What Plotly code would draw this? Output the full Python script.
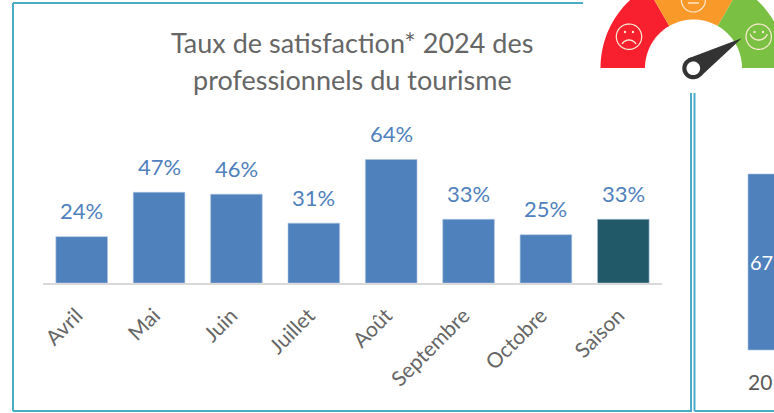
import numpy as np
import plotly.graph_objects as go

mois = ["Avril", "Mai", "Juin", "Juillet", "Août", "Septembre", "Octobre", "Saison"]
taux = [24, 47, 46, 31, 64, 33, 25, 33]
couleurs = ["#4F81BD"] * 7 + ["#215968"]
titre = ["Taux de satisfaction* 2024 des", "professionnels du tourisme"]

W, H = 774, 413
FONT = "Lato"
BLEU = "#4BACC6"
fig = go.Figure()
fig.add_trace(go.Bar(
    x=mois, y=taux, marker=dict(color=couleurs, line=dict(color="#A9C2E0", width=0.6)),
    width=0.667, showlegend=False, hoverinfo="skip"))
fig.add_trace(go.Scatter(x=[0], y=[0], xaxis="x2", yaxis="y2", mode="markers",
                         marker=dict(opacity=0), showlegend=False, hoverinfo="skip"))

shapes = []
def S(path=None, fill=None, line=None, lw=0):
    shapes.append(dict(type="path", path=path, xref="x2", yref="y2", layer="above",
                       fillcolor=fill or "rgba(0,0,0,0)",
                       line=dict(color=line or "rgba(0,0,0,0)", width=lw)))
def L(x0, y0, x1, y1, c=BLEU, w=2):
    shapes.append(dict(type="line", x0=x0, y0=y0, x1=x1, y1=y1, xref="x2", yref="y2",
                       layer="above", line=dict(color=c, width=w)))
def poly(pts, close=True):
    return "M " + " L ".join(f"{a:.2f},{b:.2f}" for a, b in pts) + (" Z" if close else "")
def arc(cx, cy, r, a0, a1, n=40):
    t = np.radians(np.linspace(a0, a1, n))
    return list(zip(cx + r * np.cos(t), cy - r * np.sin(t)))

# cadres
L(13, 3, 583, 3); L(13, 3, 13, 411); L(13, 411, 692, 411)
L(691, 93, 691, 411); L(694.5, 93, 694.5, 411); L(694.5, 411, 774, 411)

# jauge
cx, cy, R, r = 693.5, 68, 93, 48.5
for a0, a1, c in [(180, 120, "#F8202E"), (120, 60, "#F9992A"), (60, 0, "#7AC143")]:
    S(poly(arc(cx, cy, R, a0, a1) + arc(cx, cy, r, a1, a0)), fill=c)
ink = "#FCEBD5"
for fx, fy, fr in [(629, 36.7, 12.7), (693.4, 0, 12), (758.7, 36.7, 12.7)]:
    S(poly(arc(fx, fy, fr, 0, 360, 60)), line=ink, lw=1.2)
S(poly(arc(629, 48, 8, 30, 150), False), line=ink, lw=1.4)
S(poly(arc(758.7, 31, 9, 200, 340), False), line=ink, lw=1.4)
L(688, 3, 699, 3, ink, 1.4)
for fx, fy in [(625, 32), (633, 32), (754.5, 32), (763, 32)]:
    S(poly(arc(fx, fy, 1.2, 0, 360, 12)), fill=ink)
S(poly([(741.7, 38.3), (688, 58.5), (700.5, 76.5)]), fill="#333333")
S(poly(arc(693.3, 68.3, 11, 0, 360, 60)), fill="#333333")
S(poly(arc(693.3, 68.3, 6.8, 0, 360, 60)), fill="#FFFFFF")

# graphique voisin, coupé par le bord
shapes.append(dict(type="rect", x0=748, x1=776, y0=174, y1=350, xref="x2", yref="y2",
                   layer="above", fillcolor="#4F81BD", line=dict(color="#A9C2E0", width=0.6)))

ann = [dict(text=titre[0], x=352, y=42.5), dict(text=titre[1], x=352, y=79.5)]
annotations = [dict(a, xref="x2", yref="y2", showarrow=False, xanchor="center", yanchor="middle",
                    font=dict(family=FONT, size=27, color="#666666")) for a in ann]
annotations += [
    dict(text="67", x=748, y=262, xref="x2", yref="y2", showarrow=False, xanchor="left",
         yanchor="middle", font=dict(family=FONT, size=20, color="#FFFFFF")),
    dict(text="20", x=746, y=381, xref="x2", yref="y2", showarrow=False, xanchor="left",
         yanchor="middle", font=dict(family=FONT, size=21, color="#595959")),
]
annotations += [dict(text=f"{v}%", x=m, y=v, xref="x", yref="y", showarrow=False, yshift=26,
                     xanchor="center", yanchor="middle",
                     font=dict(family=FONT, size=22, color="#4F81BD"))
                for m, v in zip(mois, taux)]

fig.update_layout(
    width=W, height=H, margin=dict(l=0, r=0, t=0, b=0, autoexpand=False), autosize=False,
    paper_bgcolor="white", plot_bgcolor="rgba(0,0,0,0)", bargap=0.333,
    font=dict(family=FONT),
    xaxis=dict(domain=[43 / W, 662 / W], showline=True, linecolor="#D9D9D9", linewidth=2,
               tickangle=-45, ticks="", showgrid=False, anchor="y", automargin=False,
               ticklabelstandoff=10, ticklabelshift=-5,
               tickfont=dict(family=FONT, size=21, color="#666666")),
    yaxis=dict(domain=[130 / H, 323 / H], range=[0, 100], visible=False, anchor="x", automargin=False),
    xaxis2=dict(domain=[0, 1], range=[0, W], visible=False, anchor="y2", automargin=False),
    yaxis2=dict(domain=[0, 1], range=[H, 0], visible=False, anchor="x2", automargin=False),
    shapes=shapes, annotations=annotations)
fig.write_html("out.html", config=dict(displayModeBar=False),
               post_script="document.body.style.margin='0';document.body.style.overflow='hidden';")
